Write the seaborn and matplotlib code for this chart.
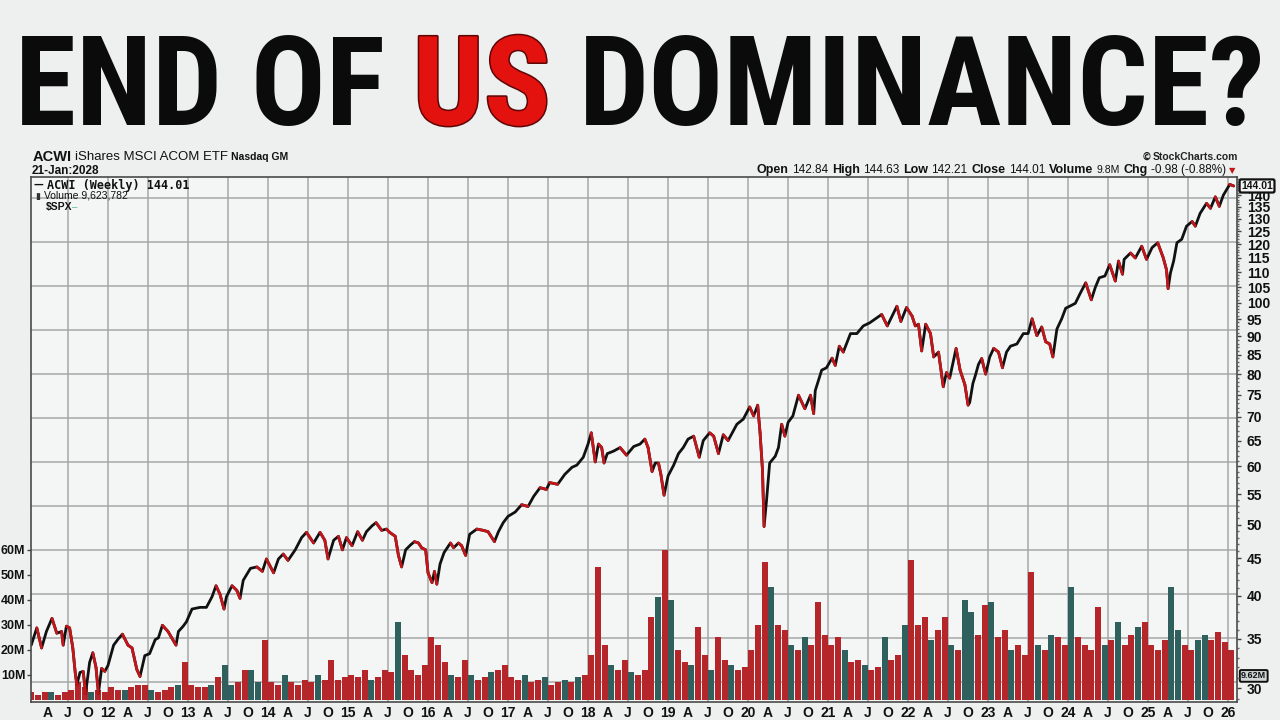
import numpy as np
import pandas as pd
import matplotlib
matplotlib.use("Agg")
import matplotlib.pyplot as plt
import seaborn as sns
from matplotlib import font_manager
from matplotlib.collections import LineCollection
import matplotlib.patheffects as pe

# ---------------- data ----------------
price_years = [
    2011.04, 2011.11, 2011.17, 2011.23, 2011.30, 2011.36, 2011.42, 2011.44, 2011.48, 2011.52,
    2011.56, 2011.59, 2011.61, 2011.65, 2011.69, 2011.72, 2011.77, 2011.81, 2011.85, 2011.88,
    2011.92, 2011.96, 2012.00, 2012.07, 2012.13, 2012.18, 2012.25, 2012.30, 2012.36, 2012.40,
    2012.46, 2012.52, 2012.59, 2012.63, 2012.68, 2012.75, 2012.85, 2012.88, 2012.94, 2012.98,
    2013.05, 2013.15, 2013.23, 2013.30, 2013.35, 2013.40, 2013.45, 2013.48, 2013.55, 2013.61,
    2013.65, 2013.69, 2013.78, 2013.86, 2013.93, 2013.98, 2014.07, 2014.13, 2014.19, 2014.25,
    2014.34, 2014.42, 2014.48, 2014.57, 2014.65, 2014.71, 2014.75, 2014.82, 2014.88, 2014.93,
    2014.98, 2015.05, 2015.12, 2015.18, 2015.23, 2015.30, 2015.35, 2015.42, 2015.48, 2015.52,
    2015.59, 2015.63, 2015.67, 2015.72, 2015.78, 2015.83, 2015.88, 2015.92, 2015.97, 2016.00,
    2016.05, 2016.08, 2016.11, 2016.15, 2016.20, 2016.28, 2016.32, 2016.38, 2016.42, 2016.47,
    2016.52, 2016.61, 2016.69, 2016.75, 2016.83, 2016.88, 2016.94, 2017.00, 2017.09, 2017.17,
    2017.25, 2017.32, 2017.40, 2017.48, 2017.52, 2017.62, 2017.71, 2017.80, 2017.86, 2017.94,
    2018.00, 2018.04, 2018.09, 2018.13, 2018.17, 2018.20, 2018.24, 2018.32, 2018.40, 2018.48,
    2018.57, 2018.65, 2018.71, 2018.75, 2018.80, 2018.84, 2018.88, 2018.91, 2018.95, 2019.00,
    2019.07, 2019.13, 2019.19, 2019.25, 2019.32, 2019.39, 2019.44, 2019.52, 2019.57, 2019.63,
    2019.69, 2019.75, 2019.86, 2019.94, 2020.02, 2020.07, 2020.12, 2020.15, 2020.18, 2020.20,
    2020.23, 2020.27, 2020.34, 2020.38, 2020.42, 2020.46, 2020.50, 2020.56, 2020.63, 2020.71,
    2020.78, 2020.82, 2020.84, 2020.92, 2020.98, 2021.05, 2021.09, 2021.14, 2021.19, 2021.28,
    2021.36, 2021.44, 2021.52, 2021.61, 2021.67, 2021.74, 2021.80, 2021.86, 2021.91, 2021.98,
    2022.05, 2022.09, 2022.13, 2022.17, 2022.22, 2022.28, 2022.32, 2022.38, 2022.44, 2022.48,
    2022.52, 2022.60, 2022.65, 2022.71, 2022.75, 2022.77, 2022.81, 2022.84, 2022.88, 2022.92,
    2022.97, 2023.02, 2023.07, 2023.13, 2023.18, 2023.23, 2023.28, 2023.36, 2023.44, 2023.50,
    2023.55, 2023.61, 2023.67, 2023.72, 2023.77, 2023.81, 2023.86, 2023.92, 2023.97, 2024.02,
    2024.09, 2024.15, 2024.22, 2024.29, 2024.34, 2024.39, 2024.46, 2024.52, 2024.59, 2024.63,
    2024.68, 2024.70, 2024.78, 2024.84, 2024.92, 2024.98, 2025.05, 2025.12, 2025.19, 2025.23,
    2025.25, 2025.28, 2025.32, 2025.36, 2025.42, 2025.48, 2025.55, 2025.59, 2025.65, 2025.73,
    2025.78, 2025.84, 2025.89, 2025.94, 2026.02, 2026.07,
]
price_values = [
    34.3, 36.2, 34.0, 35.8, 37.3, 35.6, 35.8, 34.3, 36.4, 36.2,
    34.0, 31.5, 30.3, 31.5, 31.6, 29.5, 32.5, 33.5, 32.0, 29.5,
    31.9, 31.6, 32.2, 34.3, 35.0, 35.5, 34.3, 34.0, 31.8, 31.1,
    33.2, 33.4, 34.9, 35.1, 36.5, 35.8, 34.3, 35.8, 36.4, 36.9,
    38.4, 38.6, 38.6, 39.9, 41.3, 40.2, 38.4, 39.9, 41.3, 40.7,
    39.7, 42.0, 43.6, 43.8, 43.2, 44.9, 43.0, 44.9, 45.6, 44.7,
    46.2, 48.0, 48.8, 47.2, 48.8, 47.6, 44.9, 47.6, 48.2, 46.2,
    48.0, 46.8, 48.9, 47.6, 48.9, 49.8, 50.3, 49.1, 49.3, 48.8,
    48.2, 45.4, 43.8, 46.2, 46.9, 47.4, 47.2, 46.5, 46.2, 43.0,
    41.7, 43.2, 41.5, 44.2, 45.8, 47.2, 46.5, 47.2, 46.8, 45.4,
    48.5, 49.3, 49.1, 48.9, 47.4, 48.9, 50.3, 51.3, 52.0, 53.2,
    52.9, 54.6, 56.1, 55.8, 57.0, 56.7, 58.5, 59.8, 60.2, 61.7,
    64.3, 66.6, 60.8, 64.3, 63.6, 60.6, 62.4, 62.9, 63.6, 62.1,
    63.8, 64.3, 65.3, 63.6, 59.0, 60.6, 60.6, 58.5, 54.8, 58.2,
    60.2, 62.4, 63.6, 65.3, 65.9, 61.7, 65.0, 66.6, 65.9, 62.4,
    66.2, 65.0, 68.4, 69.5, 72.2, 70.2, 72.6, 66.6, 59.3, 49.7,
    53.8, 60.6, 61.9, 63.6, 68.4, 65.9, 68.8, 70.2, 74.9, 71.8,
    74.9, 70.7, 76.0, 81.0, 81.6, 84.1, 82.2, 87.3, 85.7, 90.8,
    90.8, 93.0, 93.9, 95.4, 96.4, 93.0, 95.9, 98.9, 94.3, 98.5,
    95.9, 93.0, 93.5, 86.0, 93.5, 90.8, 84.4, 85.7, 76.9, 80.4,
    79.0, 86.7, 81.0, 77.4, 72.6, 73.2, 77.7, 79.6, 82.5, 84.0,
    80.0, 84.4, 86.7, 85.7, 81.6, 85.7, 87.3, 87.9, 90.8, 90.8,
    95.1, 90.2, 92.7, 88.5, 87.9, 84.4, 92.1, 95.1, 98.3, 98.9,
    99.8, 102.9, 106.4, 100.9, 104.9, 108.1, 108.7, 112.6, 107.0, 113.9,
    109.3, 114.5, 116.8, 115.0, 119.3, 114.5, 118.8, 120.6, 115.0, 110.8,
    104.5, 109.8, 114.0, 120.6, 121.9, 127.0, 128.9, 127.0, 132.2, 136.4,
    134.3, 139.2, 135.1, 139.9, 144.7, 144.01,
]

volume_first_month = "2011-01-01"
volume_millions = [
    3, 2, 3, 3, 2, 3, 4, 7, 5, 3, 4, 3,            # 2011
    5, 4, 4, 5, 6, 6, 4, 3, 4, 5, 6, 15,           # 2012
    6, 5, 5, 6, 9, 14, 6, 7, 12, 12, 7, 24,        # 2013
    7, 6, 10, 7, 6, 8, 7, 10, 8, 16, 8, 9,         # 2014
    10, 9, 12, 8, 9, 12, 11, 31, 18, 12, 10, 14,   # 2015
    25, 22, 15, 10, 9, 16, 10, 8, 9, 11, 12, 14,   # 2016
    9, 8, 10, 7, 8, 9, 6, 7, 8, 7, 9, 10,          # 2017
    18, 53, 22, 14, 12, 16, 11, 10, 12, 33, 41, 60,  # 2018
    40, 20, 15, 14, 29, 18, 12, 25, 16, 14, 12, 13,  # 2019
    20, 30, 55, 45, 30, 28, 22, 20, 25, 22, 39, 26,  # 2020
    22, 25, 20, 15, 16, 14, 12, 13, 25, 16, 18, 30,  # 2021
    56, 30, 33, 24, 28, 33, 22, 20, 40, 35, 26, 38,  # 2022
    39, 25, 28, 20, 22, 18, 51, 22, 20, 26, 25, 22,  # 2023
    45, 25, 22, 20, 37, 22, 24, 31, 22, 26, 29, 31,  # 2024
    22, 20, 24, 45, 28, 22, 20, 24, 26, 24, 27, 23,  # 2025
    20,                                              # 2026
]
# bar colour: u = dark teal (up week), d = red (down week)
volume_direction = (
    "dddudddddudd"   # 2011
    "ddudddudddud"   # 2012
    "ddduduudduud"   # 2013
    "dduddddudddd"   # 2014
    "dddudddudddd"   # 2015
    "dddudduddudd"   # 2016
    "ddudduddudud"   # 2017
    "ddduddudddud"   # 2018
    "uddudduddudd"   # 2019
    "ddduddududdd"   # 2020
    "dduddudduddu"   # 2021
    "dddudduduudd"   # 2022
    "uddudddududd"   # 2023
    "uddddududdud"   # 2024
    "ddduudduuddd"   # 2025
    "d"              # 2026
)

price_ticks = [30, 35, 40, 45, 50, 55, 60, 65, 70, 75, 80, 85, 90, 95, 100,
               105, 110, 115, 120, 125, 130, 135, 140]
volume_ticks = [10, 20, 30, 40, 50, 60]
last_close = 144.01
last_volume_m = 9.62

title_parts = ["END OF", "US", "DOMINANCE?"]
title_colors = ["#0b0b0b", "#e3120f", "#0b0b0b"]

# ---------------- style ----------------
W, H = 1280, 720
BG = "#edf0ef"
PLOT_BG = "#f3f6f5"
GRID = "#a7a9a9"
UP = "#2f605d"
DOWN = "#b5262a"
LINE_BLACK = "#111111"
LINE_RED = "#c2161b"


def fx(px):
    return px / W


def fy(py):
    return 1 - py / H


sns.set_theme(style="white")
plt.rcParams["font.family"] = ["Liberation Sans", "DejaVu Sans"]

available = {f.name for f in font_manager.fontManager.ttflist}
cond_family, cond_stretch = None, "normal"
for cand in ["Liberation Sans Narrow", "Roboto Condensed", "Open Sans Condensed"]:
    if cand in available:
        cond_family = cand
        break
if cond_family is None:
    cond_family = "DejaVu Sans"
    cond_stretch = "condensed"

fig = plt.figure(figsize=(12.8, 7.2), dpi=100)
fig.patch.set_facecolor(BG)

L, R, T, B = 31, 1237, 177, 702
rect = [fx(L), 1 - B / H, (R - L) / W, (B - T) / H]

x_lo, x_hi = 2011.0375, 2026.111
years_major = np.arange(2011.5, 2026.01, 0.5)
years_minor = np.arange(2011.25, 2026.01, 0.5)

# background grid axis
ax_bg = fig.add_axes(rect, zorder=0)
ax_bg.set_facecolor(PLOT_BG)
ax_bg.set_xlim(x_lo, x_hi)
ax_bg.set_ylim(0, 1)
ax_bg.set_xticks(years_major)
ax_bg.set_yticks(0.0381 + 0.0838 * np.arange(12))
ax_bg.grid(True, color=GRID, lw=1.1)
ax_bg.tick_params(length=0, labelbottom=False, labelleft=False)
for s in ax_bg.spines.values():
    s.set_visible(False)

# volume axis
ax_vol = fig.add_axes(rect, zorder=1)
ax_vol.patch.set_visible(False)
months = pd.date_range(volume_first_month, periods=len(volume_millions), freq="MS")
vol_x = np.asarray(months.year + (months.month - 0.5) / 12.0, dtype=float)
vol_df = pd.DataFrame({"t": np.round(vol_x, 5), "v": volume_millions,
                       "dir": list(volume_direction)})
sns.barplot(data=vol_df, x="t", y="v", hue="dir", palette={"u": UP, "d": DOWN},
            native_scale=True, dodge=False, width=0.9, legend=False, errorbar=None,
            saturation=1, linewidth=0, ax=ax_vol)
ax_vol.set_xlim(x_lo, x_hi)
ax_vol.set_ylim(-0.8, 209)
ax_vol.set_yticks(volume_ticks)
ax_vol.set_yticklabels([f"{v}M" for v in volume_ticks])
ax_vol.set_xticks(years_major)
ax_vol.set_xticklabels([f"{int(round(y)) % 100:02d}" if abs(y - round(y)) < 1e-6 else "J"
                        for y in years_major])
ax_vol.set_xticks(years_minor, minor=True)
ax_vol.set_xticklabels(["A" if (y % 1) < 0.5 else "O" for y in years_minor], minor=True)
ax_vol.tick_params(axis="x", which="both", length=0, pad=3, labelsize=10,
                   labelcolor="#111111")
ax_vol.tick_params(axis="y", length=3, width=1, color="#444", pad=1, labelsize=9,
                   labelcolor="#111111", left=True)
for lab in ax_vol.get_xticklabels(which="both") + ax_vol.get_yticklabels():
    lab.set_fontweight("bold")
ax_vol.set_xlabel("")
ax_vol.set_ylabel("")
for s in ax_vol.spines.values():
    s.set_visible(False)

# price axis
ax_price = ax_vol.twinx()
ax_price.set_zorder(2)
ax_price.set_yscale("log")
sns.lineplot(x=price_years, y=price_values, color=LINE_BLACK, lw=2.0, sort=False,
             estimator=None, ax=ax_price)
pts = np.column_stack([price_years, price_values])
segs = np.stack([pts[:-1], pts[1:]], axis=1)
down = np.diff(price_values) < 0
lc = LineCollection(segs[down], colors=LINE_RED, linewidths=2.0, capstyle="round",
                    joinstyle="round", zorder=3)
ax_price.add_collection(lc)
ax_price.set_xlim(x_lo, x_hi)
ax_price.set_ylim(28.72, 148.1)
ax_price.set_yticks(price_ticks)
ax_price.set_yticklabels([str(v) for v in price_ticks])
ax_price.set_yticks(np.arange(29, 148, 1), minor=True)
ax_price.yaxis.set_minor_formatter(matplotlib.ticker.NullFormatter())
ax_price.tick_params(axis="y", which="major", length=3, width=1, color="#444", pad=4,
                     labelsize=10, labelcolor="#111111", right=True)
ax_price.tick_params(axis="y", which="minor", length=1.5, width=1, color="#666", right=True)
for lab in ax_price.get_yticklabels():
    lab.set_fontweight("bold")
ax_price.set_ylabel("")
for name, s in ax_price.spines.items():
    s.set_visible(True)
    s.set_color("#4a4a4a")
    s.set_linewidth(1.2)
ax_price.spines["right"].set_linestyle((0, (1, 1)))

ax_price.annotate(f"{last_close:.2f}", xy=(1.0, last_close),
                  xycoords=("axes fraction", "data"), xytext=(3, 0),
                  textcoords="offset points", ha="left", va="center",
                  fontsize=7.5, fontweight="bold", color="#111",
                  bbox=dict(boxstyle="round,pad=0.15", fc="#f4f4f4", ec="#111", lw=1.6),
                  annotation_clip=False, zorder=6)
ax_vol.annotate(f"{last_volume_m:.2f}M", xy=(1.0, last_volume_m),
                xycoords=("axes fraction", "data"), xytext=(3, 0),
                textcoords="offset points", ha="left", va="center",
                fontsize=6.5, fontweight="bold", color="#111",
                bbox=dict(boxstyle="round,pad=0.15", fc="#cfd6d5", ec="#111", lw=1.4),
                annotation_clip=False, zorder=6)

# ---------------- text helpers ----------------
renderer = fig.canvas.get_renderer()


def text_width(s, **kw):
    t = fig.text(0, 0, s, **kw)
    w = t.get_window_extent(renderer).width
    t.remove()
    return w


def chain(x_px, y_px, parts, align="left", gap=4):
    ws = [text_width(s, **kw) for s, kw in parts]
    total = sum(ws) + gap * (len(parts) - 1)
    x = x_px if align == "left" else x_px - total
    for (s, kw), w in zip(parts, ws):
        fig.text(fx(x), fy(y_px), s, ha="left", va="center", **kw)
        x += w + gap


# ---------------- big title ----------------
tkw = dict(family=cond_family, fontstretch=cond_stretch, weight="bold")
base = 100
widths = [text_width(p, fontsize=base, **tkw) for p in title_parts]
space = text_width("A A", fontsize=base, **tkw) - text_width("AA", fontsize=base, **tkw)
total = sum(widths) + space * (len(title_parts) - 1)
scale = 1250 / total
fs = base * scale
cap_px = 0.72 * fs * 100 / 72
baseline_px = 80 + cap_px / 2
x = 15.0
for p, c, w in zip(title_parts, title_colors, widths):
    kw = {}
    if p == "US":
        kw["path_effects"] = [pe.withStroke(linewidth=2.2, foreground="#5e0505")]
    fig.text(fx(x), fy(baseline_px), p, ha="left", va="baseline", fontsize=fs,
             color=c, **tkw, **kw)
    x += (w + space) * scale

# ---------------- header lines ----------------
chain(33, 157, [("ACWI", dict(fontsize=10.5, weight="bold", color="#111")),
                ("iShares MSCI ACOM ETF", dict(fontsize=9.5, color="#111")),
                ("Nasdaq GM", dict(fontsize=7.5, weight="bold", color="#111"))], gap=3)
fig.text(fx(32), fy(171), "21-Jan:2028", ha="left", va="center", fontsize=8.5,
         weight="bold", color="#111")
chain(1238, 157, [("\u00a9", dict(fontsize=7, weight="bold", color="#222", family="DejaVu Sans")),
                  ("StockCharts.com", dict(fontsize=7.5, weight="bold", color="#222"))],
      align="right", gap=1)
b = dict(fontsize=9, weight="bold", color="#111")
n = dict(fontsize=8.5, color="#111")
chain(1226, 170, [("Open", b), ("142.84", n), ("High", b), ("144.63", n), ("Low", b),
                  ("142.21", n), ("Close", b), ("144.01", n), ("Volume", b),
                  ("9.8M", dict(fontsize=7.5, color="#111")), ("Chg", b),
                  ("-0.98 (-0.88%)", n)], align="right", gap=3.5)
fig.text(fx(1229), fy(171), "\u25bc", ha="left", va="center", fontsize=6,
         color="#c01818", family="DejaVu Sans")

# legend block inside plot
fig.text(fx(34), fy(185), "\u2014", ha="left", va="center", fontsize=7,
         weight="bold", color="#111", family="DejaVu Sans", zorder=5)
fig.text(fx(47), fy(185), "ACWI (Weekly) 144.01", ha="left", va="center", fontsize=8.5,
         weight="bold", color="#111", family="DejaVu Sans Mono", zorder=5)
fig.text(fx(35), fy(196), "\u25ae", ha="left", va="center", fontsize=6.5,
         color="#333", family="DejaVu Sans", zorder=5)
fig.text(fx(44), fy(196), "Volume 9,623,782", ha="left", va="center", fontsize=7.5,
         color="#111", zorder=5)
fig.text(fx(46), fy(207), "$SPX", ha="left", va="center", fontsize=7.5,
         weight="bold", color="#111", zorder=5)
fig.text(fx(72), fy(207), "\u2013", ha="left", va="center", fontsize=7,
         color="#5fb8a8", zorder=5)

fig.savefig("out.png", dpi=100, facecolor=fig.get_facecolor())
